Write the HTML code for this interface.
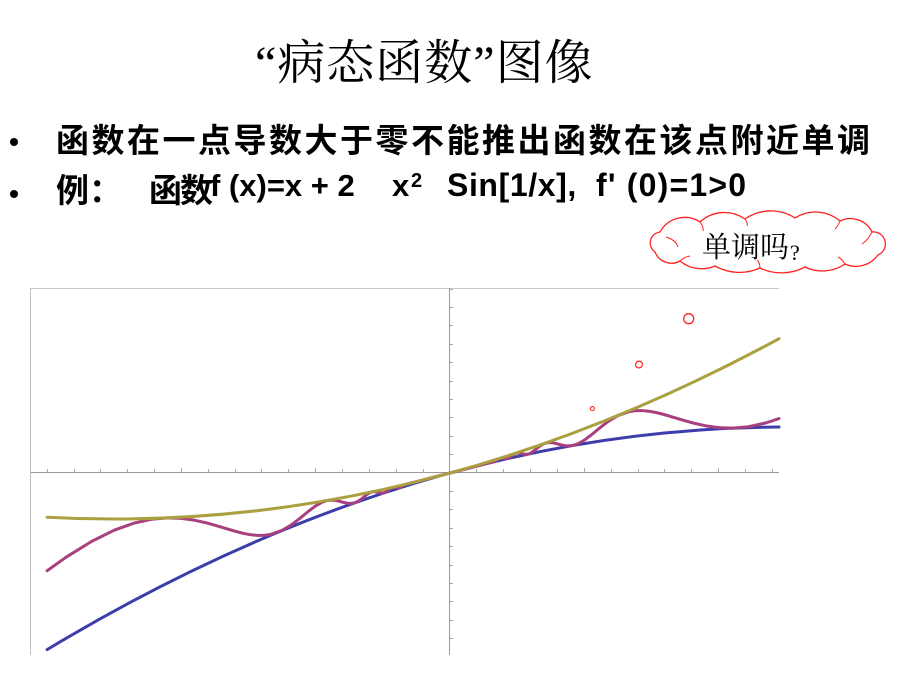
<!DOCTYPE html>
<html><head><meta charset="utf-8">
<style>
html,body{margin:0;padding:0;background:#fff;}
body{width:920px;height:690px;position:relative;overflow:hidden;}
.a{position:absolute;white-space:nowrap;color:#000;}
.cj{font-family:"Noto Sans CJK SC","WenQuanYi Zen Hei",sans-serif;font-weight:bold;font-size:33px;line-height:33px;}
.lt{font-family:"Liberation Sans",Arial,sans-serif;font-weight:bold;font-size:31px;line-height:31px;}
.dot{position:absolute;width:8px;height:8px;border-radius:50%;background:#000;}
</style></head>
<body>
<svg width="920" height="690" style="position:absolute;left:0;top:0" xmlns="http://www.w3.org/2000/svg">
  <!-- frame -->
  <line x1="30.5" y1="288.5" x2="779" y2="288.5" stroke="#c8c8c8" stroke-width="1"/>
  <line x1="30.5" y1="288" x2="30.5" y2="655" stroke="#c0c0c0" stroke-width="1"/>
  <!-- axes -->
  <line x1="31" y1="472.5" x2="779" y2="472.5" stroke="#9a9a9a" stroke-width="1"/>
  <line x1="449.5" y1="288" x2="449.5" y2="655" stroke="#9a9a9a" stroke-width="1"/>
  <!-- ticks -->
  <path d="M47.5 469V472 M74.5 469V472 M100.5 469V472 M127.5 469V472 M154.5 469V472 M181.5 468V472 M208.5 469V472 M235.5 469V472 M261.5 469V472 M288.5 469V472 M315.5 468V472 M342.5 469V472 M369.5 469V472 M396.5 469V472 M423.5 469V472 M476.5 469V472 M503.5 469V472 M530.5 469V472 M557.5 469V472 M584.5 468V472 M611.5 469V472 M638.5 469V472 M664.5 469V472 M691.5 469V472 M718.5 468V472 M745.5 469V472 M772.5 469V472" stroke="#aaa" stroke-width="1" fill="none"/>
  <path d="M450 454.5H453 M450 436.5H453 M450 417.5H453 M450 399.5H453 M450 381.5H453 M450 362.5H453 M450 344.5H453 M450 325.5H453 M450 307.5H453 M450 289.5H453 M450 491.5H453 M450 509.5H453 M450 528.5H453 M450 546.5H453 M450 565.5H453 M450 583.5H453 M450 601.5H453 M450 620.5H453 M450 638.5H453" stroke="#aaa" stroke-width="1" fill="none"/>
  <!-- blue: x - 2x^2 -->
  <path d="M47.1 649.64 Q413.07 429.02 779.04 427.02" stroke="#3c3caa" stroke-width="3" fill="none" stroke-linecap="round"/>
  <!-- pink: x + 2x^2 sin(1/x) -->
  <polyline fill="none" stroke="#a8407f" stroke-width="3" stroke-linejoin="round" stroke-linecap="round" points="47.1,570.78 66.29,557.06 91.87,541.22 114.25,530.19 134,523.12 151.56,519.25 167.26,517.87 181.4,518.37 194.19,520.16 205.82,522.74 216.43,525.68 226.17,528.62 235.12,531.25 243.38,533.37 251.04,534.79 258.14,535.44 264.76,535.28 270.93,534.34 282.12,530.38 292,524.43 300.78,517.64 308.63,511.13 315.7,505.8 322.1,502.18 327.91,500.37 333.22,500.13 338.08,500.93 342.56,502.13 346.69,503.14 350.52,503.51 354.07,503.01 357.38,501.65 360.47,499.66 363.35,497.37 366.06,495.17 368.61,493.38 371,492.2 373.26,491.69 375.39,491.73 377.41,492.15 379.32,492.68 381.13,493.04 382.85,493.08 386.05,491.92 388.95,489.72 391.61,487.82 394.04,487.17 396.28,487.56 398.35,487.98 400.26,487.6 402.04,486.39 403.69,485.11 405.23,484.46 450,473 494.77,461.54 496.31,460.89 497.96,459.61 499.74,458.4 501.65,458.02 503.72,458.44 505.96,458.83 508.39,458.18 511.05,456.28 513.95,454.08 517.15,452.92 518.87,452.96 520.68,453.32 522.59,453.85 524.61,454.27 526.74,454.31 529,453.8 531.39,452.62 533.94,450.83 536.65,448.63 539.53,446.34 542.62,444.35 545.93,442.99 549.48,442.49 553.31,442.86 557.44,443.87 561.92,445.07 566.78,445.87 572.09,445.63 577.9,443.82 584.3,440.2 591.37,434.87 599.22,428.36 608,421.57 617.88,415.62 629.07,411.66 635.24,410.72 641.86,410.56 648.96,411.21 656.62,412.63 664.88,414.75 673.83,417.38 683.57,420.32 694.18,423.26 705.81,425.84 718.6,427.63 732.74,428.13 748.44,426.75 766,422.88 779.04,418.52"/>
  <!-- yellow: x + 2x^2 -->
  <path d="M47.1 517.2 Q413.07 537.22 779.04 338.66" stroke="#aaa040" stroke-width="3" fill="none" stroke-linecap="round"/>
  <!-- thought bubbles -->
  <circle cx="688.7" cy="318.7" r="5" fill="none" stroke="#ff2020" stroke-width="1.3"/>
  <circle cx="639" cy="364.5" r="3.4" fill="none" stroke="#ff2020" stroke-width="1.2"/>
  <circle cx="592.3" cy="408.6" r="2" fill="none" stroke="#ff2020" stroke-width="1.1"/>
  <!-- cloud -->
  <path d="M655 252 A11 11 0 0 1 660 232 A28 28 0 0 1 700 222 A36 36 0 0 1 745 219 A45 45 0 0 1 795 218 A38 38 0 0 1 840 221 A24 24 0 0 1 872 232 A12 12 0 0 1 878 255 A27 27 0 0 1 845 264 A40 40 0 0 1 805 267 A50 50 0 0 1 760 268 A50 50 0 0 1 715 266 A34 34 0 0 1 680 261 A17.7 17.7 0 0 1 655 252 Z" fill="#fff" stroke="#ff2020" stroke-width="1.3"/>
  <path d="M666 237 Q676 240 678 247 M700 222 Q704 227 703 231 M745 219 Q748 223 747 226 M840 221 Q838 226 835 229 M872 232 Q868 240 862 244 M845 264 Q842 259 838 257 M760 268 Q760 263 757 260 M680 261 Q684 257 690 256" fill="none" stroke="#ff2020" stroke-width="1"/>
</svg>

<!-- title -->
<div class="a" style="left:255px;top:40px;font-family:'Liberation Serif','Noto Serif CJK SC',serif;font-size:48px;line-height:48px;letter-spacing:1px;">“病态函数”图像</div>

<!-- bullets -->
<div class="dot" style="left:10px;top:138px;"></div>
<div class="dot" style="left:10px;top:190px;"></div>

<div class="a cj" style="left:56px;top:122px;letter-spacing:2.5px;">函数在一点导数大于零不能推出函数在该点附近单调</div>

<div class="a cj" style="left:56px;top:172px;">例：</div>
<div class="a cj" style="left:149px;top:172px;letter-spacing:-2px;">函数</div>
<div class="a lt" style="left:210px;top:170px;">f (x)=x + 2</div>
<div class="a lt" style="left:392px;top:170px;">x</div>
<div class="a lt" style="left:411px;top:171px;font-size:20px;line-height:20px;">2</div>
<div class="a lt" style="left:447px;top:169px;font-size:32px;line-height:32px;letter-spacing:0.6px;">Sin[1/x],</div>
<div class="a lt" style="left:596px;top:169px;font-size:32px;line-height:32px;letter-spacing:1.2px;">f' (0)=1&gt;0</div>

<!-- cloud text -->
<div class="a" style="left:702px;top:232px;font-family:'Noto Serif CJK SC',serif;font-size:29px;line-height:28px;">单调吗</div>
<div class="a" style="left:790px;top:242px;font-family:'Liberation Serif',serif;font-size:22px;line-height:22px;">?</div>
</body></html>
